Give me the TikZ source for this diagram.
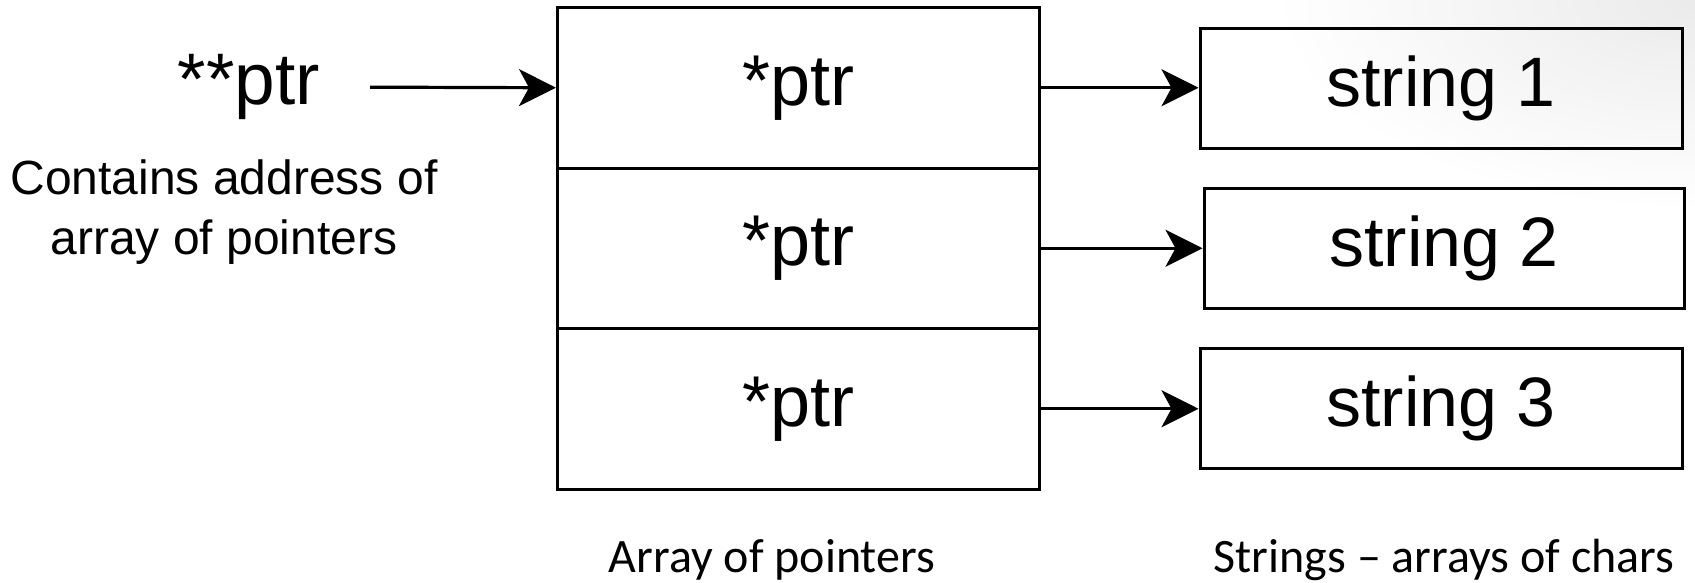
\documentclass[tikz,border=0pt]{standalone}
\usepackage{fontspec}
\setmainfont{Liberation Sans}
\newfontfamily\captionfont{Carlito}
\usetikzlibrary{arrows.meta}

\tikzset{
  cell/.style={draw, line width=3pt, minimum width=482pt, minimum height=160.5pt,
    inner sep=0pt, font=\fontsize{72}{86}\selectfont},
  strbox/.style={draw, line width=3pt, minimum height=120pt,
    inner sep=0pt, font=\fontsize{70}{84}\selectfont},
  link/.style={line width=3.2pt, -{Stealth[length=37pt, width=37pt, inset=10pt]}},
  caption/.style={anchor=base, inner sep=0pt, font=\captionfont\fontsize{48}{56}\selectfont},
}

\begin{document}
\begin{tikzpicture}[x=1pt, y=-1pt]
  \useasboundingbox (0,0) rectangle (1695,582);
  \fill[white] (0,0) rectangle (1695,582);

  % soft grey glow along the top right corner of the slide
  \begin{scope}
    \clip (0,0) rectangle (1695,582);
    \shade[inner color=black!8, outer color=white] (1695,0) ellipse (420 and 210);
  \end{scope}

  % double pointer and its note
  \node[inner sep=0pt, font=\fontsize{73}{88}\selectfont] (dptr) at (249,87) {**ptr};
  \node[inner sep=0pt, align=center, font=\fontsize{48}{60}\selectfont] (note) at (224,212)
    {Contains address of\\array of pointers};

  % array of pointers
  \node[cell] (c1) at (798.5,87.75) {*ptr};
  \node[cell] (c2) at (798.5,248.25) {*ptr};
  \node[cell] (c3) at (798.5,408.75) {*ptr};

  % strings
  \node[strbox, minimum width=482pt] (s1) at (1441,88) {string 1};
  \node[strbox, minimum width=480pt] (s2) at (1444,248) {string 2};
  \node[strbox, minimum width=482pt] (s3) at (1441,408) {string 3};

  % pointers
  \draw[link, shorten <=50pt] (dptr.east) -- (c1.west);
  \draw[link] (c1.east) -- (s1.west |- c1.east);
  \draw[link] (c2.east) -- (s2.west |- c2.east);
  \draw[link] (c3.east) -- (s3.west |- c3.east);

  % captions
  \node[caption] (capA) at (772,572) {Array of pointers};
  \node[caption] (capS) at (1444,572) {Strings – arrays of chars};
\end{tikzpicture}
\end{document}
